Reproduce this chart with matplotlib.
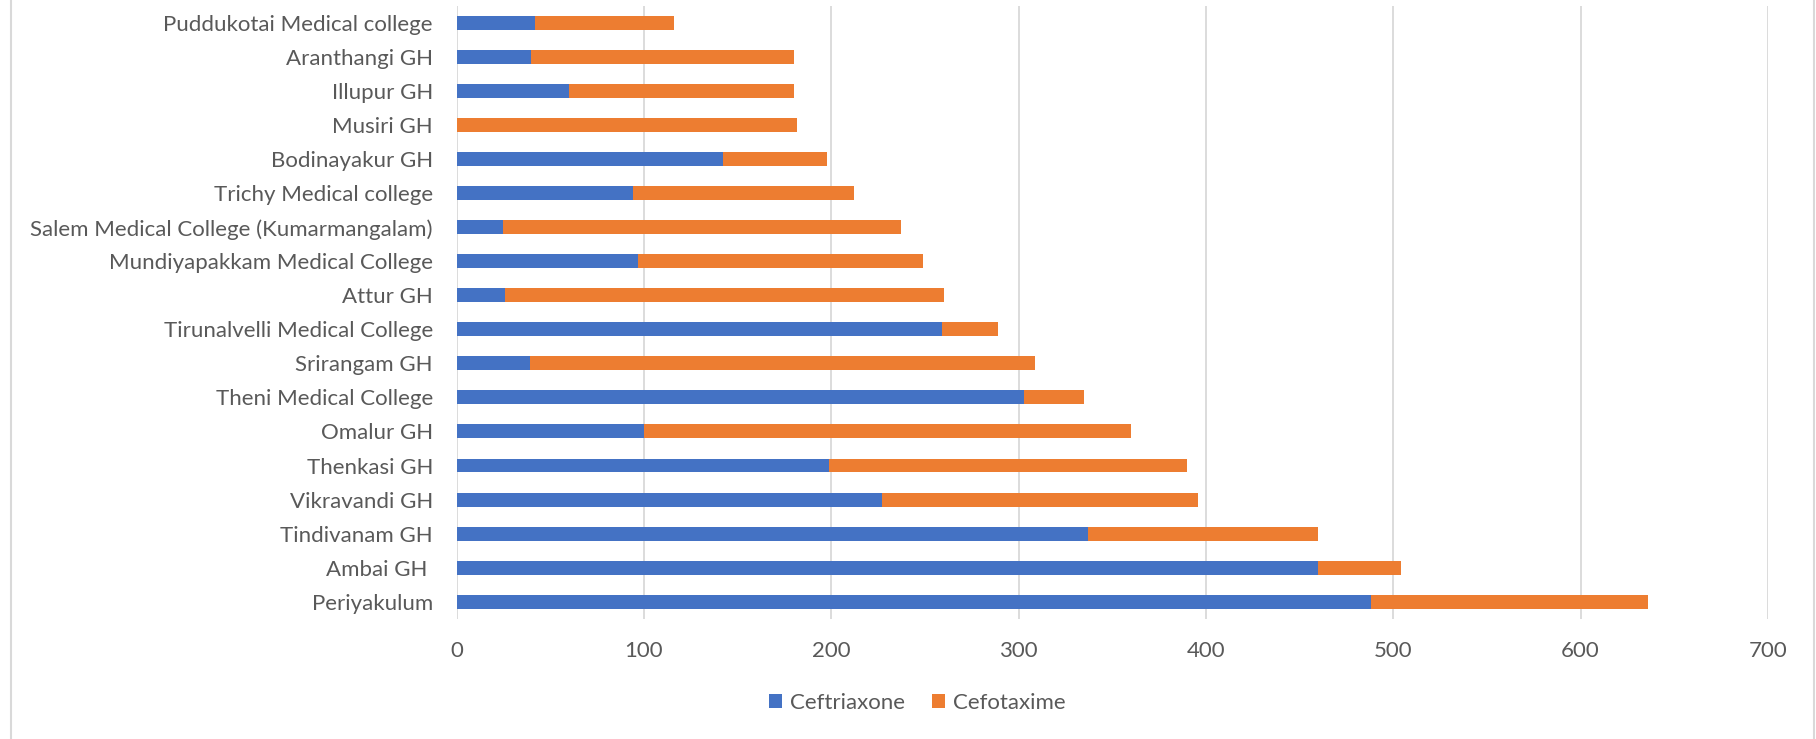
import matplotlib.pyplot as plt
from matplotlib.patches import Rectangle

# data (top to bottom as drawn)
hospitals = ["Puddukotai Medical college", "Aranthangi GH", "Illupur GH", "Musiri GH",
             "Bodinayakur GH", "Trichy Medical college",
             "Salem Medical College (Kumarmangalam)", "Mundiyapakkam Medical College",
             "Attur GH", "Tirunalvelli Medical College", "Srirangam GH",
             "Theni Medical College", "Omalur GH", "Thenkasi GH", "Vikravandi GH",
             "Tindivanam GH", "Ambai GH ", "Periyakulum"]
ceftriaxone = [42, 40, 60, 0, 142, 94, 25, 97, 26, 259, 39, 303, 100, 199, 227, 337, 460, 488]
cefotaxime = [74, 140, 120, 182, 56, 118, 212, 152, 234, 30, 270, 32, 260, 191, 169, 123, 44, 148]
series_names = ["Ceftriaxone", "Cefotaxime"]
xticks = [0, 100, 200, 300, 400, 500, 600, 700]

plt.rcParams['font.family'] = ['Lato', 'DejaVu Sans']
grey = '#595959'

fig = plt.figure(figsize=(18.16, 7.39), dpi=100)
ax = fig.add_axes([0.2514, 0.1628, 0.7221, 0.8291])

pos = list(range(len(hospitals)))
ax.barh(pos, ceftriaxone, height=0.41, color='#4472C4', label=series_names[0], zorder=3)
ax.barh(pos, cefotaxime, left=ceftriaxone, height=0.41, color='#ED7D31',
        label=series_names[1], zorder=3)

ax.set_ylim(len(hospitals) - 0.5, -0.5)
ax.set_xlim(0, 700)
ax.set_xticks(xticks)
ax.set_yticks(pos)
ax.set_yticklabels(hospitals)
ax.tick_params(axis='both', length=0, labelsize=16, labelcolor=grey)
ax.tick_params(axis='y', pad=17)
ax.tick_params(axis='x', pad=16)
ax.grid(axis='x', color='#d9d9d9', linewidth=1.3, zorder=0)
for s in ax.spines.values():
    s.set_visible(False)

fig.legend(loc='center', bbox_to_anchor=(0.505, 0.049), ncol=2, frameon=False,
           fontsize=16, labelcolor=grey, handlelength=0.6, handleheight=0.6,
           handletextpad=0.35, columnspacing=1.2)

# light chart border
fig.patches.append(Rectangle((0.006, -0.01), 0.993, 1.05, transform=fig.transFigure,
                             fill=False, edgecolor='#d9d9d9', linewidth=1.5))

fig.savefig('out.png', dpi=100)
